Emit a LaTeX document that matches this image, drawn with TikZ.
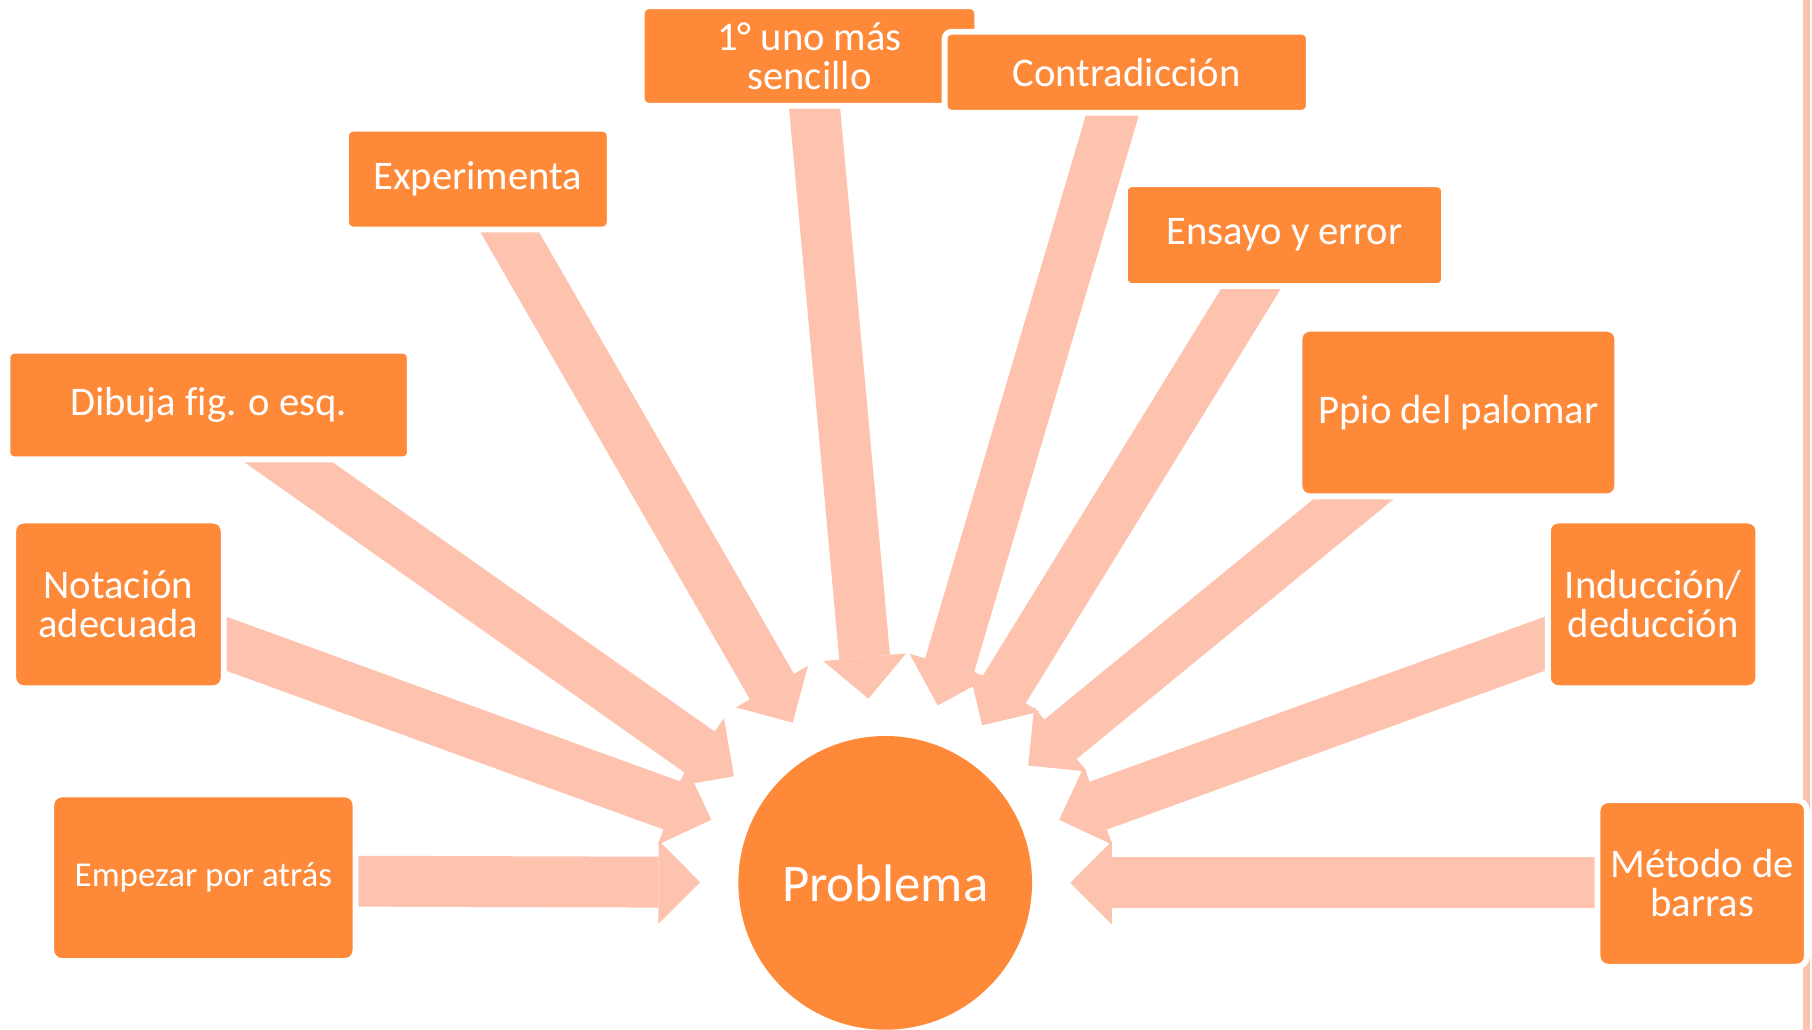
\documentclass[tikz,border=0pt]{standalone}
\usepackage{fontspec}
\setmainfont{Carlito}[Ligatures=NoCommon]
\usetikzlibrary{arrows.meta,backgrounds}
\definecolor{naranja}{HTML}{FE8939}
\definecolor{salmon}{HTML}{FDC3AF}

\begin{document}
\begin{tikzpicture}[x=0.01cm, y=0.01cm,
    caja/.style={rectangle, rounded corners=0.06cm, fill=naranja, draw=white, line width=0.05cm,
      text=white, align=center, inner sep=0pt, font=\fontsize{10}{9.6}\selectfont},
    cuadro/.style={caja, rounded corners=0.09cm, minimum width=1.82cm, minimum height=1.45cm},
    flecha/.style={draw=salmon, line width=0.44cm,
      -{Triangle[length=0.36cm, width=0.72cm, line width=0pt]}, shorten >=0.33cm}]
    \useasboundingbox (0,0) rectangle (1568,891);

    % 右边的线
    \fill[salmon] (1560,0) rectangle (1566,891);

    % 中心: 问题
    \node[circle, fill=naranja, minimum size=2.54cm, inner sep=0pt, outer sep=0pt,
      text=white, font=\fontsize{13}{15}\selectfont] (prob) at (766,127) {Problema};

    % 上面的方框
    \node[caja, minimum width=2.28cm, minimum height=0.87cm] (exp) at (413.5,736) {Experimenta};
    \node[caja, minimum width=2.90cm, minimum height=0.86cm] (uno) at (700.5,842.5) {1° uno más\\sencillo};
    \node[caja, minimum width=3.15cm, minimum height=0.70cm] (con) at (975,828.5) {Contradicción};
    \node[caja, minimum width=2.76cm, minimum height=0.88cm] (ens) at (1111.5,687.5) {Ensayo y error};
    \node[caja, rounded corners=0.09cm, minimum width=2.75cm, minimum height=1.45cm] (ppio) at (1262,534) {Ppio del palomar};
    \node[caja, minimum width=3.48cm, minimum height=0.94cm] (dib) at (180.5,540.5) {Dibuja fig. o esq.};

    % 两边的方框
    \node[cuadro] (ind) at (1430.5,368) {Inducción/\\deducción};
    \node[cuadro, minimum width=1.81cm, minimum height=1.44cm] (met) at (1473,126.5) {Método de\\barras};
    \node[cuadro] (not) at (102.5,368) {Notación\\adecuada};
    \node[cuadro, minimum width=2.63cm, minimum height=1.44cm,
      font=\fontsize{8.6}{10}\selectfont] (emp) at (176,131.5) {Empezar por atrás};

    % 箭头起点
    \coordinate (t-exp) at (429,711);
    \coordinate (t-uno) at (703,818);
    \coordinate (t-con) at (969,813);
    \coordinate (t-ens) at (1093.5,659);
    \coordinate (t-ppio) at (1198,481);
    \coordinate (t-ind) at (1357.7,341.5);
    \coordinate (t-met) at (1402,127);
    \coordinate (t-dib) at (217,514);
    \coordinate (t-not) at (175,341.5);
    \coordinate (t-emp) at (292,128.5);

    % 箭头
    \begin{scope}[on background layer]
      \foreach \t in {exp,uno,con,ens,ppio,ind,met,dib,not,emp}
        \draw[flecha] (t-\t) -- (prob);
    \end{scope}
\end{tikzpicture}
\end{document}
